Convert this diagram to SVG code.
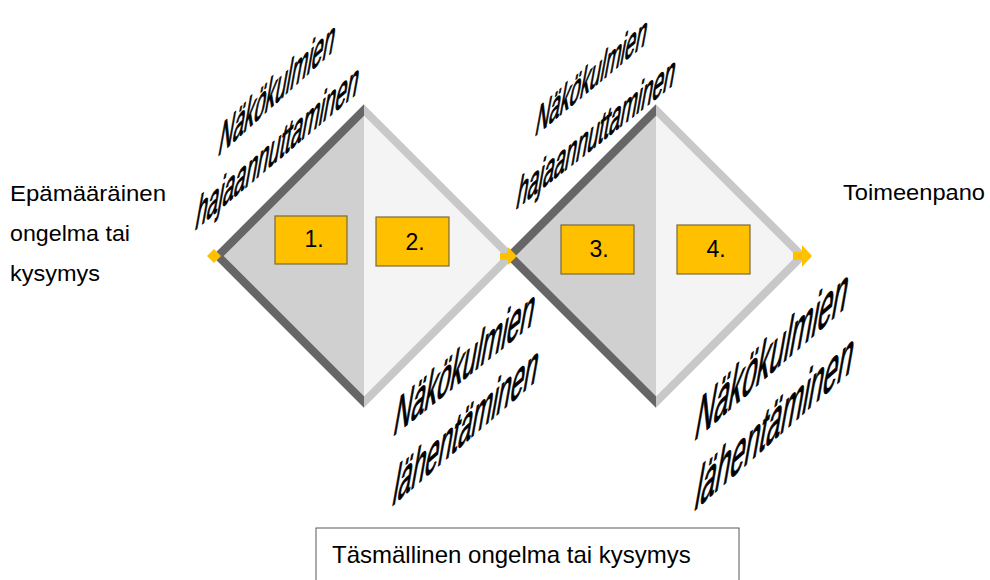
<svg xmlns="http://www.w3.org/2000/svg" width="990" height="580" viewBox="0 0 990 580">
<style>
.t{font-family:"Liberation Sans",Arial,sans-serif;fill:#000}
.lab{font-family:"Liberation Sans",Arial,sans-serif;fill:#000;stroke:#000;stroke-width:0.7}
.dk{fill:#d0d0d0}
.lt{fill:#f4f4f4}
.edgeL{fill:none;stroke:#c8c8c8;stroke-width:8;stroke-linejoin:miter}
.edgeD{fill:none;stroke:#666666;stroke-width:8;stroke-linejoin:miter}
.box{fill:#ffc000;stroke:#7a6a3a;stroke-width:1.2}
.num{font-family:"Liberation Sans",Arial,sans-serif;font-size:23px;fill:#000;text-anchor:middle}
.mk{fill:#ffc000}
</style>
<defs>
<clipPath id="cl1"><rect x="0" y="0" width="364" height="580"/></clipPath>
<clipPath id="cl2"><rect x="0" y="0" width="656" height="580"/></clipPath>
</defs>
<rect width="990" height="580" fill="#ffffff"/>

<g id="diamond1">
<polygon class="dk" points="364,110 218,256 364,402"/>
<polygon class="lt" points="364,110 510,256 364,402"/>
<polygon class="edgeL" points="364,110 510,256 364,402 218,256"/>
<polygon class="edgeD" clip-path="url(#cl1)" points="364,110 510,256 364,402 218,256"/>
</g>

<g id="diamond2">
<polygon class="dk" points="656,110 510,256 656,402"/>
<polygon class="lt" points="656,110 802,256 656,402"/>
<polygon class="edgeL" points="656,110 802,256 656,402 510,256"/>
<polygon class="edgeD" clip-path="url(#cl2)" points="656,110 802,256 656,402 510,256"/>
</g>

<g id="connectors">
<polygon class="mk" points="214,249 221,256 214,263 207,256"/>
<polygon class="mk" points="500,253 508,253 508,247 517,256 508,265 508,260 500,260"/>
<polygon class="mk" points="793,252 802,252 802,245 812,256 802,267 802,260 793,260"/>
</g>

<g id="step1">
<rect class="box" x="275" y="216" width="72" height="48"/>
<text class="num" x="314" y="247">1.</text>
</g>
<g id="step2">
<rect class="box" x="376" y="217" width="73" height="49"/>
<text class="num" x="415" y="250">2.</text>
</g>
<g id="step3">
<rect class="box" x="561" y="225" width="73" height="49"/>
<text class="num" x="599" y="257">3.</text>
</g>
<g id="step4">
<rect class="box" x="677" y="225" width="73" height="49"/>
<text class="num" x="716" y="257">4.</text>
</g>

<g id="label-diverge1">
<text class="lab" font-size="27" transform="matrix(0.739 -0.674 -0.33 1.85 217 157)">Näkökulmien</text>
<text class="lab" font-size="26.7" transform="matrix(0.764 -0.645 -0.33 1.85 194 231)">hajaannuttaminen</text>
</g>
<g id="label-converge1">
<text class="lab" font-size="31" transform="matrix(0.780 -0.625 -0.33 1.85 392 437)">Näkökulmien</text>
<text class="lab" font-size="31.8" transform="matrix(0.755 -0.656 -0.33 1.85 391 507)">lähentäminen</text>
</g>
<g id="label-diverge2">
<text class="lab" font-size="25" transform="matrix(0.766 -0.640 -0.33 1.8 534 137)">Näkökulmien</text>
<text class="lab" font-size="25.3" transform="matrix(0.785 -0.620 -0.33 1.85 515 210)">hajaannuttaminen</text>
</g>
<g id="label-converge2">
<text class="lab" font-size="35" transform="matrix(0.750 -0.661 -0.33 1.85 693 442)">Näkökulmien</text>
<text class="lab" font-size="35" transform="matrix(0.747 -0.665 -0.33 1.85 693 512)">lähentäminen</text>
</g>

<g id="start">
<text class="t" font-size="22" x="10" y="201" textLength="156" lengthAdjust="spacingAndGlyphs">Epämääräinen</text>
<text class="t" font-size="22" x="10" y="241" textLength="120" lengthAdjust="spacingAndGlyphs">ongelma tai</text>
<text class="t" font-size="22" x="10" y="281" textLength="90" lengthAdjust="spacingAndGlyphs">kysymys</text>
</g>
<g id="end">
<text class="t" font-size="22" x="843" y="200" textLength="142" lengthAdjust="spacingAndGlyphs">Toimeenpano</text>
</g>
<g id="result">
<rect x="316" y="528" width="423" height="70" fill="#ffffff" stroke="#595959" stroke-width="1"/>
<text class="t" font-size="24" x="332" y="563">Täsmällinen ongelma tai kysymys</text>
</g>
</svg>
